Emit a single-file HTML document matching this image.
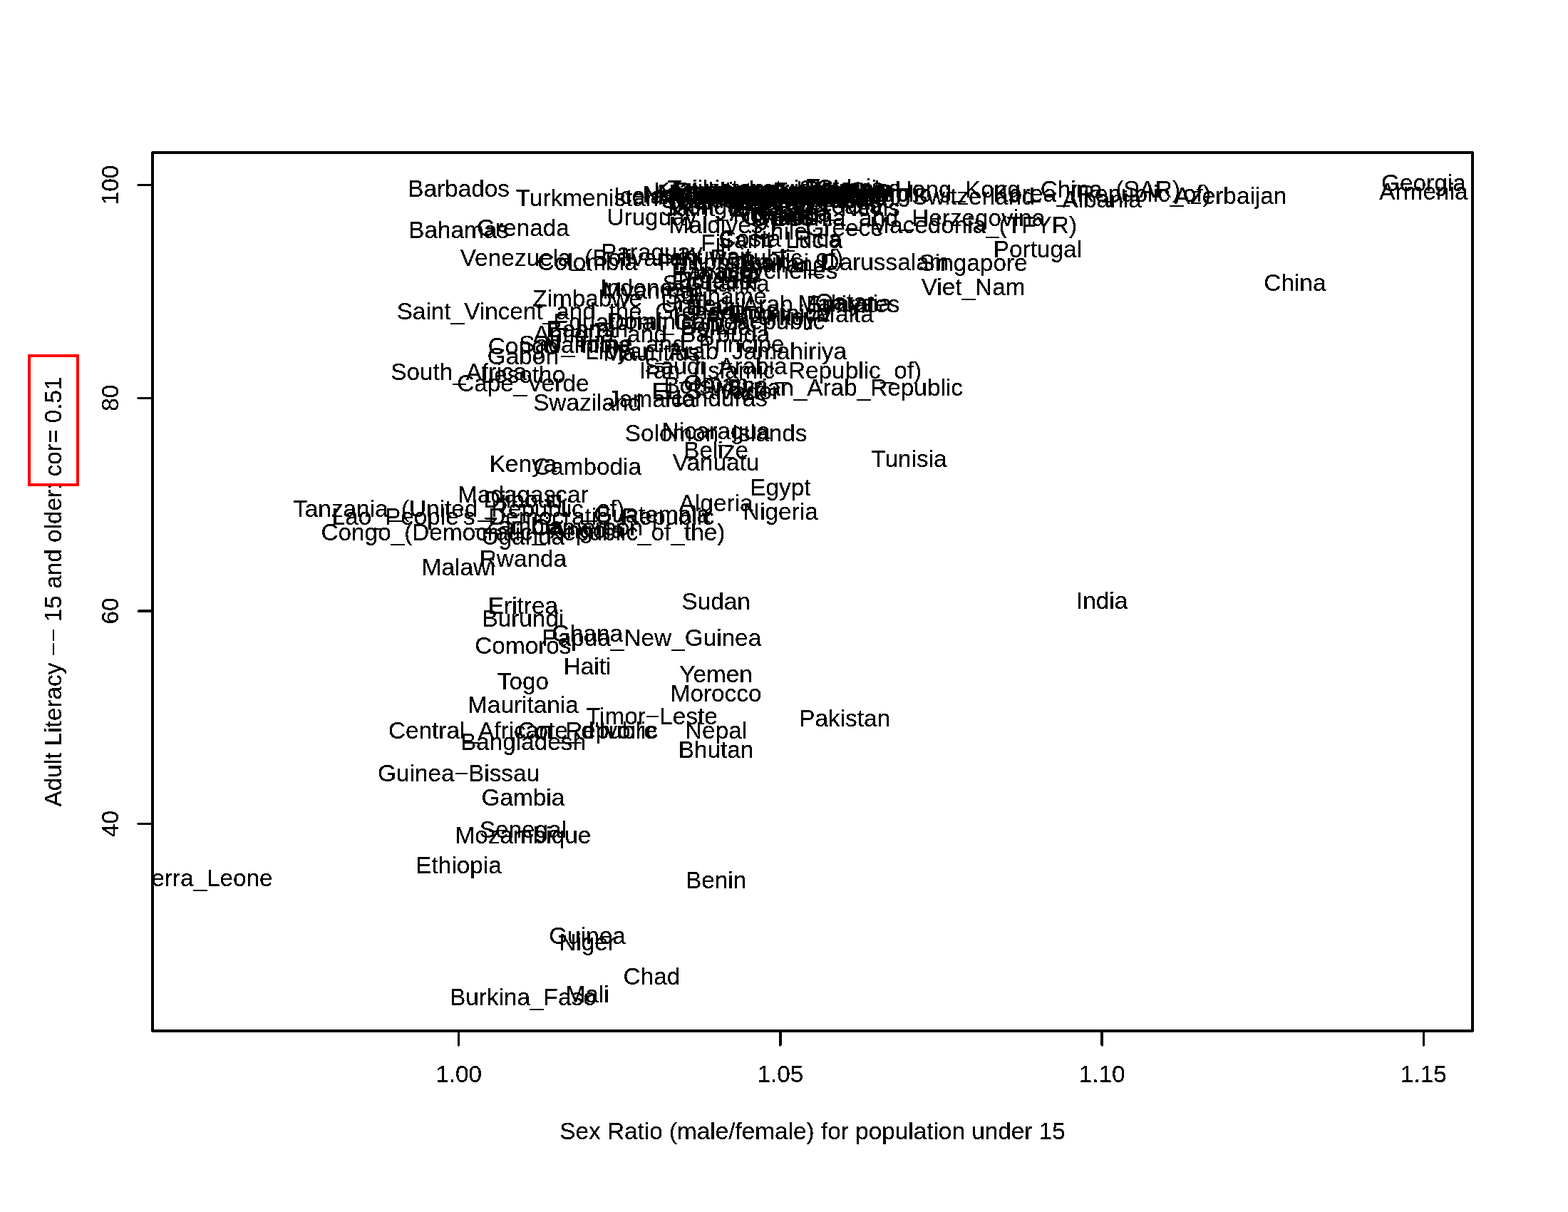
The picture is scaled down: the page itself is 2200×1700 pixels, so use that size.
<!DOCTYPE html>
<html lang="en"><head><meta charset="utf-8"><title>Adult Literacy and Sex Ratio</title>
<style>
html,body{margin:0;padding:0;background:#fff;}
body{width:2200px;height:1700px;overflow:hidden;}
svg{display:block;}
text{font-family:"Liberation Sans",Arial,Helvetica,sans-serif;font-size:33.333px;fill:#000;text-anchor:middle;}
</style></head><body>
<svg width="2200" height="1700" viewBox="0 0 2200 1700">
<defs><clipPath id="plot"><rect x="214.0" y="214.0" width="1852.0" height="1232.0"/></clipPath><filter id="crisp" filterUnits="userSpaceOnUse" x="0" y="0" width="2200" height="1700" color-interpolation-filters="sRGB"><feComponentTransfer><feFuncA type="discrete" tableValues="0 0 0 1 1 1 1 1"/></feComponentTransfer></filter></defs>
<rect x="0" y="0" width="2200" height="1700" fill="#fff"/>
<g filter="url(#crisp)">
<g clip-path="url(#plot)">
<text x="282.6" y="1243.3">Sierra_Leone</text>
<text x="643.6" y="275.8">Barbados</text>
<text x="643.6" y="334.1">Bahamas</text>
<text x="643.6" y="532.6">South_Africa</text>
<text x="643.6" y="725.3">Tanzania_(United_Republic_of)</text>
<text x="643.6" y="807.4">Malawi</text>
<text x="643.6" y="1095.8">Guinea−Bissau</text>
<text x="643.6" y="1225.2">Ethiopia</text>
<text x="733.9" y="331.3">Grenada</text>
<text x="733.9" y="496.7">Congo</text>
<text x="733.9" y="510.5">Gabon</text>
<text x="733.9" y="537.1">Lesotho</text>
<text x="733.9" y="549.2">Cape_Verde</text>
<text x="733.9" y="662.2">Kenya</text>
<text x="733.9" y="705.4">Madagascar</text>
<text x="733.9" y="711.6">Djibouti</text>
<text x="733.9" y="735.5">Lao_People's_Democratic_Republic</text>
<text x="733.9" y="749.1">Zambia</text>
<text x="733.9" y="758.0">Congo_(Democratic_Republic_of_the)</text>
<text x="733.9" y="763.6">Uganda</text>
<text x="733.9" y="795.4">Rwanda</text>
<text x="733.9" y="861.1">Eritrea</text>
<text x="733.9" y="879.0">Burundi</text>
<text x="733.9" y="916.6">Comoros</text>
<text x="733.9" y="966.7">Togo</text>
<text x="733.9" y="1000.0">Mauritania</text>
<text x="733.9" y="1035.9">Central_African_Republic</text>
<text x="733.9" y="1051.8">Bangladesh</text>
<text x="733.9" y="1130.1">Gambia</text>
<text x="733.9" y="1174.6">Senegal</text>
<text x="733.9" y="1183.4">Mozambique</text>
<text x="733.9" y="1410.3">Burkina_Faso</text>
<text x="824.1" y="289.3">Turkmenistan</text>
<text x="824.1" y="379.1">Colombia</text>
<text x="824.1" y="429.6">Zimbabwe</text>
<text x="824.1" y="447.5">Saint_Vincent_and_the_Grenadines</text>
<text x="824.1" y="495.3">Namibia</text>
<text x="824.1" y="576.2">Swaziland</text>
<text x="824.1" y="665.8">Cambodia</text>
<text x="824.1" y="750.9">Cameroon</text>
<text x="824.1" y="900.2">Ghana</text>
<text x="824.1" y="946.2">Haiti</text>
<text x="824.1" y="1035.8">Cote_d'Ivoire</text>
<text x="824.1" y="1324.2">Guinea</text>
<text x="824.1" y="1332.5">Niger</text>
<text x="824.1" y="1406.1">Mali</text>
<text x="914.4" y="315.7">Uruguay</text>
<text x="914.4" y="365.0">Paraguay</text>
<text x="914.4" y="372.9">Venezuela_(Bolivarian_Republic_of)</text>
<text x="914.4" y="414.7">Indonesia</text>
<text x="914.4" y="571.4">Jamaica</text>
<text x="914.4" y="733.0">Guatemala</text>
<text x="824.1" y="754.7">Angola</text>
<text x="914.4" y="1016.4">Timor−Leste</text>
<text x="914.4" y="1381.0">Chad</text>
<text x="1004.6" y="619.2">Solomon_Islands</text>
<text x="1004.6" y="615.8">Nicaragua</text>
<text x="1004.6" y="643.1">Belize</text>
<text x="1004.6" y="659.6">Vanuatu</text>
<text x="1004.6" y="717.4">Algeria</text>
<text x="1004.6" y="855.4">Sudan</text>
<text x="914.4" y="906.0">Papua_New_Guinea</text>
<text x="1004.6" y="956.7">Yemen</text>
<text x="1004.6" y="983.6">Morocco</text>
<text x="1004.6" y="1035.6">Nepal</text>
<text x="1004.6" y="1062.7">Bhutan</text>
<text x="1004.6" y="1246.4">Benin</text>
<text x="1004.6" y="503.9">Libyan_Arab_Jamahiriya</text>
<text x="1004.6" y="570.0">Honduras</text>
<text x="1094.9" y="695.0">Egypt</text>
<text x="1094.9" y="729.3">Nigeria</text>
<text x="1094.9" y="531.2">Iran_(Islamic_Republic_of)</text>
<text x="1185.1" y="1019.4">Pakistan</text>
<text x="1185.1" y="555.0">Syrian_Arab_Republic</text>
<text x="1185.1" y="378.5">Brunei_Darussalam</text>
<text x="1185.1" y="331.3">Greece</text>
<text x="1275.4" y="655.1">Tunisia</text>
<text x="1275.4" y="317.2">Bosnia_and_Herzegovina</text>
<text x="1365.6" y="380.2">Singapore</text>
<text x="1365.6" y="414.3">Viet_Nam</text>
<text x="1365.6" y="326.6">Macedonia_(TFYR)</text>
<text x="1365.6" y="286.5">Switzerland</text>
<text x="1455.9" y="360.5">Portugal</text>
<text x="1455.9" y="276.5">Hong_Kong,_China_(SAR)</text>
<text x="1546.1" y="853.7">India</text>
<text x="1546.1" y="290.8">Albania</text>
<text x="1546.1" y="283.3">Korea_(Republic_of)</text>
<text x="1726.6" y="286.0">Azerbaijan</text>
<text x="1816.9" y="407.5">China</text>
<text x="1997.4" y="268.2">Georgia</text>
<text x="1997.4" y="280.3">Armenia</text>
<text x="914.4" y="286.3">Iceland</text>
<text x="1185.1" y="291.9">Italy</text>
<text x="1004.6" y="278.8">Kazakhstan</text>
<text x="1004.6" y="275.6">Tajikistan</text>
<text x="1004.6" y="287.3">Kyrgyzstan</text>
<text x="1004.6" y="280.2">Ukraine</text>
<text x="1004.6" y="281.7">Uzbekistan</text>
<text x="1004.6" y="292.5">Samoa</text>
<text x="1004.6" y="284.4">Tonga</text>
<text x="1004.6" y="300.8">Mongolia</text>
<text x="1094.9" y="291.8">Trinidad_and_Tobago</text>
<text x="1004.6" y="284.4">New_Zealand</text>
<text x="1185.1" y="283.1">Japan</text>
<text x="1004.6" y="286.3">Australia</text>
<text x="1185.1" y="282.9">Hungary</text>
<text x="1004.6" y="326.6">Maldives</text>
<text x="1094.9" y="286.3">Austria</text>
<text x="1094.9" y="282.9">Belgium</text>
<text x="1094.9" y="286.5">Canada</text>
<text x="1094.9" y="286.3">Denmark</text>
<text x="1094.9" y="286.3">Finland</text>
<text x="1094.9" y="286.3">France</text>
<text x="1094.9" y="283.3">Germany</text>
<text x="1185.1" y="286.3">Ireland</text>
<text x="1094.9" y="283.0">Norway</text>
<text x="1185.1" y="286.5">Sweden</text>
<text x="1094.9" y="282.9">United_Kingdom</text>
<text x="1094.9" y="284.8">United_States</text>
<text x="1094.9" y="286.3">Netherlands</text>
<text x="1185.1" y="274.3">Estonia</text>
<text x="1094.9" y="275.8">Latvia</text>
<text x="1185.1" y="276.1">Slovenia</text>
<text x="1185.1" y="277.3">Belarus</text>
<text x="1094.9" y="278.5">Russian_Federation</text>
<text x="1094.9" y="281.8">Moldova_(Republic_of)</text>
<text x="1185.1" y="283.4">Czech_Republic</text>
<text x="1094.9" y="286.5">Slovakia</text>
<text x="1094.9" y="294.8">Bulgaria</text>
<text x="1185.1" y="300.0">Croatia</text>
<text x="1094.9" y="299.8">Spain</text>
<text x="1094.9" y="302.7">Saint_Kitts_and_Nevis</text>
<text x="1094.9" y="311.7">Romania</text>
<text x="1094.9" y="309.7">Argentina</text>
<text x="1094.9" y="314.6">Israel</text>
<text x="1094.9" y="316.1">Cyprus</text>
<text x="1185.1" y="282.9">Luxembourg</text>
<text x="1185.1" y="274.6">Cuba</text>
<text x="1185.1" y="277.3">Lithuania</text>
<text x="1185.1" y="286.3">Poland</text>
<text x="1094.9" y="335.8">Chile</text>
<text x="1004.6" y="351.7">Fiji</text>
<text x="1094.9" y="346.0">Costa_Rica</text>
<text x="1094.9" y="347.5">Saint_Lucia</text>
<text x="1004.6" y="371.4">Kuwait</text>
<text x="1004.6" y="378.6">Philippines</text>
<text x="1094.9" y="381.8">Thailand</text>
<text x="1004.6" y="392.3">Panama</text>
<text x="1094.9" y="390.8">Seychelles</text>
<text x="1004.6" y="396.8">Mexico</text>
<text x="1004.6" y="404.2">Jordan</text>
<text x="1004.6" y="405.7">Ecuador</text>
<text x="1004.6" y="408.7">Sri_Lanka</text>
<text x="914.4" y="418.8">Myanmar</text>
<text x="1004.6" y="426.9">Suriname</text>
<text x="1185.1" y="435.2">Qatar</text>
<text x="1185.1" y="436.8">Malaysia</text>
<text x="1094.9" y="438.2">United_Arab_Emirates</text>
<text x="1004.6" y="441.6">Brazil</text>
<text x="1094.9" y="450.5">Dominica</text>
<text x="1004.6" y="452.0">Peru</text>
<text x="1185.1" y="452.0">Malta</text>
<text x="1094.9" y="456.2">Turkey</text>
<text x="1004.6" y="462.3">Dominican_Republic</text>
<text x="914.4" y="462.6">Equatorial_Guinea</text>
<text x="1004.6" y="469.9">Bolivia</text>
<text x="824.1" y="472.9">Bahrain</text>
<text x="914.4" y="480.0">Antigua_and_Barbuda</text>
<text x="914.4" y="493.9">Sao_Tome_and_Principe</text>
<text x="914.4" y="505.8">Mauritius</text>
<text x="1004.6" y="525.2">Saudi_Arabia</text>
<text x="1004.6" y="549.3">Oman</text>
<text x="1004.6" y="552.1">Botswana</text>
<text x="1004.6" y="559.5">El_Salvador</text>
</g>
<line x1="643.6" y1="1446.0" x2="643.6" y2="1466.0" stroke="#000" stroke-width="3" stroke-linecap="round"/>
<text x="643.6" y="1518.0">1.00</text>
<line x1="1094.9" y1="1446.0" x2="1094.9" y2="1466.0" stroke="#000" stroke-width="3" stroke-linecap="round"/>
<text x="1094.9" y="1518.0">1.05</text>
<line x1="1546.1" y1="1446.0" x2="1546.1" y2="1466.0" stroke="#000" stroke-width="3" stroke-linecap="round"/>
<text x="1546.1" y="1518.0">1.10</text>
<line x1="1997.4" y1="1446.0" x2="1997.4" y2="1466.0" stroke="#000" stroke-width="3" stroke-linecap="round"/>
<text x="1997.4" y="1518.0">1.15</text>
<line x1="214.0" y1="1155.5" x2="194.0" y2="1155.5" stroke="#000" stroke-width="3" stroke-linecap="round"/>
<text transform="translate(166.0,1155.5) rotate(-90)" x="0" y="0">40</text>
<line x1="214.0" y1="856.9" x2="194.0" y2="856.9" stroke="#000" stroke-width="3" stroke-linecap="round"/>
<text transform="translate(166.0,856.9) rotate(-90)" x="0" y="0">60</text>
<line x1="214.0" y1="558.3" x2="194.0" y2="558.3" stroke="#000" stroke-width="3" stroke-linecap="round"/>
<text transform="translate(166.0,558.3) rotate(-90)" x="0" y="0">80</text>
<line x1="214.0" y1="259.6" x2="194.0" y2="259.6" stroke="#000" stroke-width="3" stroke-linecap="round"/>
<text transform="translate(166.0,259.6) rotate(-90)" x="0" y="0">100</text>
<rect x="214.0" y="214.0" width="1852.0" height="1232.0" fill="none" stroke="#000" stroke-width="4" stroke-linejoin="round"/>
<text x="1140.0" y="1598.0">Sex Ratio (male/female) for population under 15</text>
<text transform="translate(86.0,830.0) rotate(-90)" x="0" y="0">Adult Literacy −− 15 and older: cor= 0.51</text>
</g>
<rect x="41" y="499" width="68" height="181" fill="none" stroke="#ff0000" stroke-width="4"/>
</svg></body></html>
